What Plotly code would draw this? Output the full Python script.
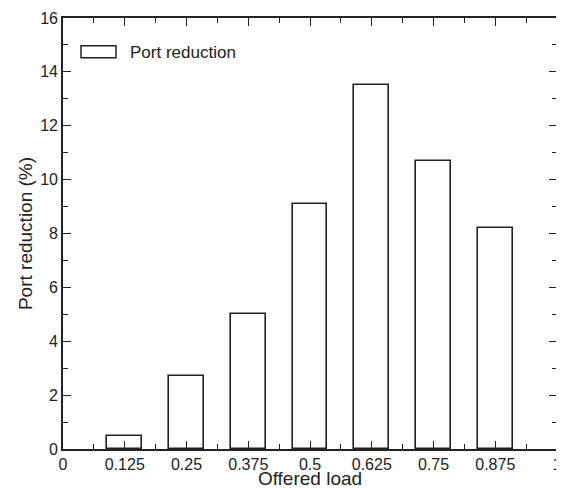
import plotly.graph_objects as go

offered_load = [0.125, 0.25, 0.375, 0.5, 0.625, 0.75, 0.875]
port_reduction = [0.5, 2.7, 5.0, 9.1, 13.5, 10.7, 8.2]
x_tick_vals = [0, 0.125, 0.25, 0.375, 0.5, 0.625, 0.75, 0.875, 1]
x_tick_text = ["0", "0.125", "0.25", "0.375", "0.5", "0.625", "0.75", "0.875", "1"]
y_tick_vals = [0, 2, 4, 6, 8, 10, 12, 14, 16]
series_name = "Port reduction"

FONT = "Liberation Sans, Arial, Helvetica, sans-serif"
INK = "#222222"

fig = go.Figure()
fig.add_trace(go.Bar(
    x=offered_load, y=port_reduction, width=0.07, name=series_name,
    marker=dict(color="white", line=dict(color=INK, width=1.6)),
    showlegend=False,
))

axis_common = dict(
    showline=True, linecolor=INK, linewidth=1.6, mirror="ticks",
    ticks="inside", ticklen=8, tickwidth=1.3, tickcolor=INK,
    showgrid=False, zeroline=False, automargin=False,
    tickfont=dict(family=FONT, size=16, color=INK),
)

fig.update_xaxes(
    range=[0, 1], tickvals=x_tick_vals, ticktext=x_tick_text,
    minor=dict(ticks="inside", ticklen=5, tickwidth=1.3, tickcolor=INK, dtick=0.0625, tick0=0),
    title=dict(text="Offered load", font=dict(family=FONT, size=19, color=INK), standoff=2),
    **axis_common,
)
fig.update_yaxes(
    range=[0, 16], tickvals=y_tick_vals,
    minor=dict(ticks="inside", ticklen=5, tickwidth=1.3, tickcolor=INK, dtick=1, tick0=0),
    title=dict(text="Port reduction (%)", font=dict(family=FONT, size=19, color=INK), standoff=3),
    **axis_common,
)

# legend drawn as a box + label in paper coordinates
fig.add_shape(type="rect", xref="paper", yref="paper",
              x0=(81 - 63) / 494, x1=(116 - 63) / 494,
              y0=(449 - 57.7) / 431, y1=(449 - 45.7) / 431,
              line=dict(color=INK, width=1.5), fillcolor="white")
fig.add_annotation(xref="paper", yref="paper", x=(128 - 63) / 494, y=(449 - 52) / 431,
                   xanchor="left", yanchor="middle", showarrow=False,
                   text=series_name, font=dict(family=FONT, size=17, color=INK))

# the page body adds an 8px offset, so the figure is 8px narrower/shorter and shifted
fig.update_layout(
    width=556, height=481,
    margin=dict(l=55, r=7, t=10, b=40),
    plot_bgcolor="white", paper_bgcolor="white",
    bargap=0,
)

fig.write_html("out.html")
